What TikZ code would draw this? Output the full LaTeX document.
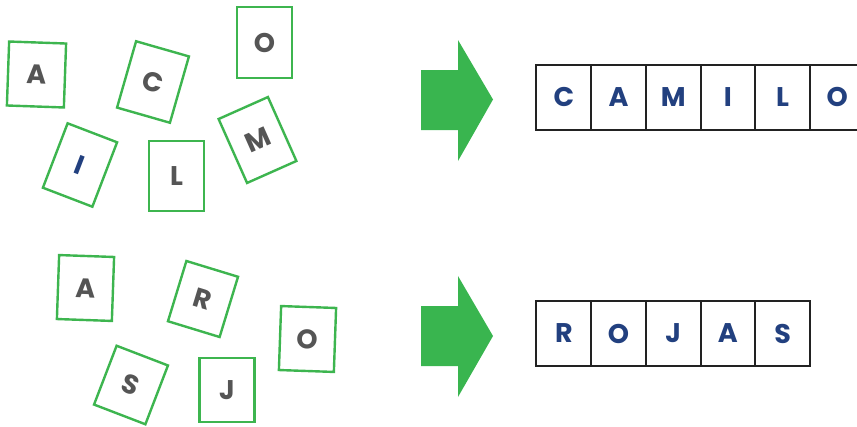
\documentclass[tikz,border=0pt]{standalone}
\usepackage{fontspec}
\setmainfont{Poppins}
\definecolor{cardgreen}{HTML}{3DB54F}
\definecolor{arrowgreen}{HTML}{39B54F}
\definecolor{lettergray}{HTML}{555555}
\definecolor{letterblue}{HTML}{22407F}
\definecolor{boxline}{HTML}{222222}
\begin{document}
\begin{tikzpicture}[x=1pt,y=-1pt,
  card/.style={draw=cardgreen, line width=2.4pt, fill=white, inner sep=0pt,
    font=\fontsize{27}{27}\selectfont\bfseries, text=lettergray},
  cell/.style={draw=boxline, line width=2pt, minimum width=54.7pt, minimum height=65pt,
    inner sep=0pt, font=\fontsize{27}{27}\selectfont\bfseries, text=letterblue},
  bigarrow/.style={fill=arrowgreen, draw=none}]
\useasboundingbox (0,0) rectangle (857,426);
% upper cards
\node[card, minimum width=57pt, minimum height=64pt, rotate=-2] (ua) at (36.5,74.5) {A};
\node[card, minimum width=55pt, minimum height=69pt, rotate=-16] (uc) at (153,82) {C};
\node[card, minimum width=55pt, minimum height=71pt] (uo) at (264.5,42.5) {O};
\node[card, minimum width=53pt, minimum height=69pt, rotate=-21] (ui) at (80,165) {\textcolor{letterblue}{I}};
\node[card, minimum width=55pt, minimum height=70pt] (ul) at (176.5,176) {L};
\node[card, minimum width=54pt, minimum height=70pt, rotate=24] (um) at (257.5,140) {M};
% lower cards
\node[card, minimum width=55pt, minimum height=64pt, rotate=-2] (la) at (85.5,288) {A};
\node[card, minimum width=54pt, minimum height=63pt, rotate=-17] (lr) at (203,299) {R};
\node[card, minimum width=55pt, minimum height=64pt, rotate=-2] (lo) at (307.5,339) {O};
\node[card, minimum width=55pt, minimum height=63pt, rotate=-21] (ls) at (131,385) {S};
\node[card, minimum width=55pt, minimum height=64pt] (lj) at (227,390) {J};
% arrows
\fill[bigarrow] (421,70) -- (458,70) -- (458,40) -- (493,99.5) -- (458,161) -- (458,130) -- (421,130) -- cycle;
\fill[bigarrow] (421,306) -- (458,306) -- (458,276) -- (493,336) -- (458,397) -- (458,366) -- (421,366) -- cycle;
% upper word
\node[cell] (c1) at (563.8,97.3) {C};
\node[cell] (c2) at (618.5,97.3) {A};
\node[cell] (c3) at (673.2,97.3) {M};
\node[cell] (c4) at (727.9,97.3) {I};
\node[cell] (c5) at (782.6,97.3) {L};
\node[cell] (c6) at (837.3,97.3) {O};
% lower word
\node[cell] (r1) at (563.8,333.5) {R};
\node[cell] (r2) at (618.5,333.5) {O};
\node[cell] (r3) at (673.2,333.5) {J};
\node[cell] (r4) at (727.9,333.5) {A};
\node[cell] (r5) at (782.6,333.5) {S};
\end{tikzpicture}
\end{document}
